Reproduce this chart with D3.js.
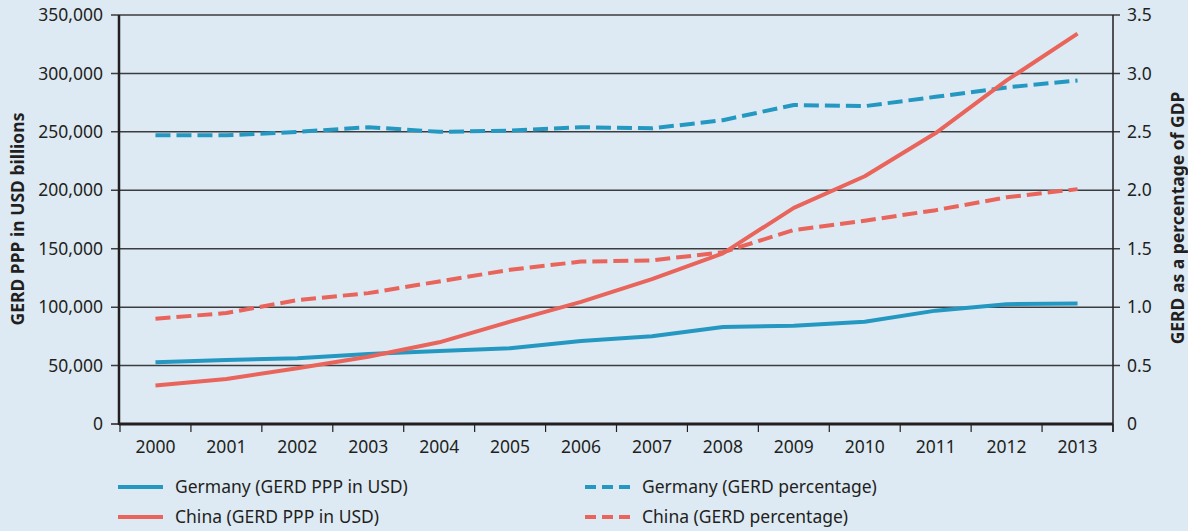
<!DOCTYPE html>
<html>
<head>
<meta charset="utf-8">
<script src="https://cdnjs.cloudflare.com/ajax/libs/d3/7.8.5/d3.min.js"></script>
<style>
  body { margin: 0; background: #ddeaf4; }
  svg text { font-family: "Noto Sans", "Open Sans", sans-serif; fill: #231f20; }
</style>
</head>
<body>
<div id="container"></div>
<script>
// years on the x axis
var years = [2000, 2001, 2002, 2003, 2004, 2005, 2006, 2007, 2008, 2009, 2010, 2011, 2012, 2013];

// GERD PPP in USD billions (left axis)
var germanyPPP = [52800, 54800, 56200, 59900, 62500, 64800, 71000, 75000, 83000, 84000, 87500, 97000, 102500, 103200];
var chinaPPP = [33000, 38500, 47700, 57600, 69900, 87600, 104500, 124000, 146000, 185000, 212000, 249000, 294000, 334000];

// GERD as a percentage of GDP (right axis)
var germanyPct = [2.47, 2.47, 2.50, 2.54, 2.50, 2.51, 2.54, 2.53, 2.60, 2.73, 2.72, 2.80, 2.88, 2.94];
var chinaPct = [0.90, 0.95, 1.06, 1.12, 1.22, 1.32, 1.39, 1.40, 1.47, 1.66, 1.74, 1.83, 1.94, 2.01];

var leftTicks = [0, 50000, 100000, 150000, 200000, 250000, 300000, 350000];
var rightTicks = [0, 0.5, 1.0, 1.5, 2.0, 2.5, 3.0, 3.5];

var width = 1188;
var height = 531;
var blue = "#2598c2";
var red = "#e9645a";
var fontSize = 17.5;

var svg = d3.select("#container")
    .append("svg")
    .attr("width", width)
    .attr("height", height);

var x = d3.scaleBand()
    .domain(years)
    .range([120, 1113]);

var yLeft = d3.scaleLinear()
    .domain([0, 350000])
    .range([424, 15]);

var yRight = d3.scaleLinear()
    .domain([0, 3.5])
    .range([424, 15]);

// gridlines
svg.append("g")
    .selectAll("line")
    .data(leftTicks.slice(1))
    .enter()
    .append("line")
    .attr("x1", 111)
    .attr("x2", 1120)
    .attr("y1", d => yLeft(d))
    .attr("y2", d => yLeft(d))
    .attr("stroke", "#3c3c3e")
    .attr("stroke-width", 1.5);

// left axis
var leftAxis = svg.append("g")
    .attr("transform", "translate(119,0)")
    .call(d3.axisLeft(yLeft).tickValues(leftTicks).tickSize(0).tickPadding(16)
        .tickFormat(d => d == 0 ? "0" : d3.format(",")(d)));
leftAxis.select(".domain").remove();
leftAxis.selectAll("text").attr("font-size", fontSize).attr("fill", "#231f20");

svg.append("line")
    .attr("x1", 119).attr("x2", 119)
    .attr("y1", 15).attr("y2", 425)
    .attr("stroke", "#231f20").attr("stroke-width", 2.5);

svg.append("line")
    .attr("x1", 111).attr("x2", 119)
    .attr("y1", yLeft(0)).attr("y2", yLeft(0))
    .attr("stroke", "#231f20").attr("stroke-width", 1.5);

// right axis
var rightAxis = svg.append("g")
    .attr("transform", "translate(1113,0)")
    .call(d3.axisRight(yRight).tickValues(rightTicks).tickSize(0).tickPadding(14)
        .tickFormat(d => d == 0 ? "0" : d3.format(".1f")(d)));
rightAxis.select(".domain").remove();
rightAxis.selectAll("text").attr("font-size", fontSize).attr("fill", "#231f20");

svg.append("line")
    .attr("x1", 1113).attr("x2", 1113)
    .attr("y1", 15).attr("y2", 432)
    .attr("stroke", "#231f20").attr("stroke-width", 1.5);

// bottom axis: ticks at band edges, labels at band centres
svg.append("line")
    .attr("x1", 119).attr("x2", 1113)
    .attr("y1", 424).attr("y2", 424)
    .attr("stroke", "#231f20").attr("stroke-width", 3);

var edges = years.map(d => x(d)).concat([x(years[years.length - 1]) + x.bandwidth()]);
svg.append("g")
    .selectAll("line")
    .data(edges)
    .enter()
    .append("line")
    .attr("x1", d => d).attr("x2", d => d)
    .attr("y1", 424).attr("y2", 432)
    .attr("stroke", "#231f20").attr("stroke-width", 1.2);

svg.append("g")
    .selectAll("text")
    .data(years)
    .enter()
    .append("text")
    .attr("x", d => x(d) + x.bandwidth() / 2)
    .attr("y", 453)
    .attr("text-anchor", "middle")
    .attr("font-size", fontSize)
    .text(d => d);

// axis titles
svg.append("text")
    .attr("transform", "translate(24,219) rotate(-90)")
    .attr("text-anchor", "middle")
    .attr("font-size", 17.5)
    .attr("font-weight", "bold")
    .text("GERD PPP in USD billions");

svg.append("text")
    .attr("transform", "translate(1184,218) rotate(-90)")
    .attr("text-anchor", "middle")
    .attr("font-size", 17.5)
    .attr("font-weight", "bold")
    .text("GERD as a percentage of GDP");

// lines
var cx = d => x(d) + x.bandwidth() / 2;

function drawLine(values, scale, color, dashed) {
    var line = d3.line()
        .x((d, i) => cx(years[i]))
        .y(d => scale(d));
    svg.append("path")
        .datum(values)
        .attr("d", line)
        .attr("fill", "none")
        .attr("stroke", color)
        .attr("stroke-width", 4)
        .attr("stroke-linejoin", "round")
        .attr("stroke-dasharray", dashed ? "15,6" : null);
}

drawLine(germanyPct, yRight, blue, true);
drawLine(chinaPct, yRight, red, true);
drawLine(germanyPPP, yLeft, blue, false);
drawLine(chinaPPP, yLeft, red, false);

// legend
var legendItems = [
    { label: "Germany (GERD PPP in USD)", color: blue, dashed: false, x: 118, y: 487 },
    { label: "China (GERD PPP in USD)", color: red, dashed: false, x: 118, y: 517 },
    { label: "Germany (GERD percentage)", color: blue, dashed: true, x: 585, y: 487 },
    { label: "China (GERD percentage)", color: red, dashed: true, x: 585, y: 517 }
];

var legend = svg.append("g")
    .selectAll("g")
    .data(legendItems)
    .enter()
    .append("g");

legend.append("line")
    .attr("x1", d => d.x).attr("x2", d => d.x + 45)
    .attr("y1", d => d.y).attr("y2", d => d.y)
    .attr("stroke", d => d.color)
    .attr("stroke-width", 4)
    .attr("stroke-dasharray", d => d.dashed ? "11,6" : null);

legend.append("text")
    .attr("x", d => d.x + 57)
    .attr("y", d => d.y + 6)
    .attr("font-size", fontSize)
    .text(d => d.label);
</script>
</body>
</html>
